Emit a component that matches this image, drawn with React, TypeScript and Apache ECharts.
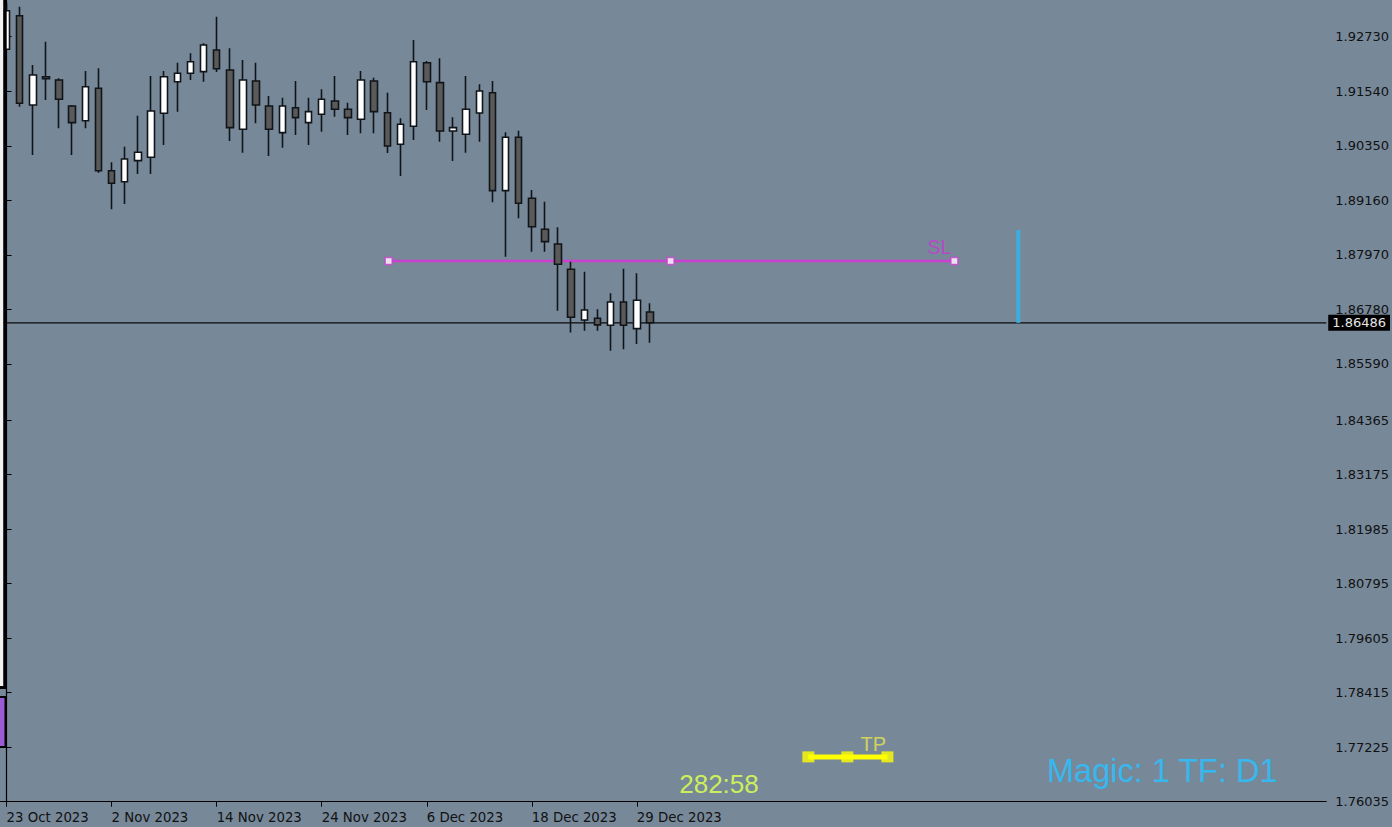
import React, { useEffect, useRef } from "react";
import * as echarts from "echarts";

const dates = [
  "23 Oct 2023", "24 Oct 2023", "25 Oct 2023", "26 Oct 2023", "27 Oct 2023", "30 Oct 2023", "31 Oct 2023",
  "1 Nov 2023", "2 Nov 2023", "3 Nov 2023", "6 Nov 2023", "7 Nov 2023", "8 Nov 2023", "9 Nov 2023", "10 Nov 2023",
  "13 Nov 2023", "14 Nov 2023", "15 Nov 2023", "16 Nov 2023", "17 Nov 2023", "20 Nov 2023", "21 Nov 2023",
  "22 Nov 2023", "23 Nov 2023", "24 Nov 2023", "27 Nov 2023", "28 Nov 2023", "29 Nov 2023", "30 Nov 2023",
  "1 Dec 2023", "4 Dec 2023", "5 Dec 2023", "6 Dec 2023", "7 Dec 2023", "8 Dec 2023", "11 Dec 2023",
  "12 Dec 2023", "13 Dec 2023", "14 Dec 2023", "15 Dec 2023", "18 Dec 2023", "19 Dec 2023", "20 Dec 2023",
  "21 Dec 2023", "22 Dec 2023", "26 Dec 2023", "27 Dec 2023", "28 Dec 2023", "29 Dec 2023", "2 Jan 2024",
];

const opens = [
  1.92455, 1.93188, 1.9124, 1.91857, 1.91785, 1.91218, 1.90897, 1.91604, 1.89806, 1.89566,
  1.90025, 1.90099, 1.91059, 1.91748, 1.91932, 1.91967, 1.9244, 1.92004, 1.9071, 1.91764,
  1.91218, 1.90636, 1.91181, 1.90854, 1.91037, 1.91327, 1.91146, 1.90928, 1.91764, 1.91072,
  1.90382, 1.90775, 1.92163, 1.91727, 1.90673, 1.90601, 1.91065, 1.91508, 1.8937, 1.90535,
  1.89204, 1.88528, 1.88207, 1.87655, 1.86549, 1.86586, 1.86433, 1.86941, 1.86359, 1.86723,
];
const highs = [
  1.93466, 1.93385, 1.92113, 1.92621, 1.91823, 1.9124, 1.91982, 1.92041, 1.8999, 1.9033,
  1.91006, 1.91873, 1.91982, 1.92163, 1.92368, 1.92586, 1.93167, 1.92477, 1.92222, 1.92163,
  1.91436, 1.91399, 1.91764, 1.91399, 1.91583, 1.91873, 1.9129, 1.91982, 1.91836, 1.91508,
  1.9095, 1.92658, 1.922, 1.92259, 1.90972, 1.91873, 1.91692, 1.91764, 1.90644, 1.90679,
  1.89385, 1.8913, 1.88571, 1.87821, 1.87603, 1.86782, 1.87131, 1.87668, 1.87568, 1.86913,
];
const lows = [
  1.9244, 1.91203, 1.90149, 1.91349, 1.90732, 1.90149, 1.90732, 1.89763, 1.88964, 1.8908,
  1.89734, 1.89734, 1.90367, 1.91094, 1.91785, 1.91748, 1.9196, 1.90454, 1.90199, 1.90841,
  1.90127, 1.90308, 1.90585, 1.90367, 1.90657, 1.90985, 1.90585, 1.90622, 1.90622, 1.90193,
  1.89691, 1.90476, 1.91131, 1.90439, 1.90018, 1.90199, 1.90439, 1.89117, 1.8793, 1.88768,
  1.88039, 1.88039, 1.86752, 1.86272, 1.86315, 1.86315, 1.85879, 1.85909, 1.86025, 1.86053,
];
const closes = [
  1.93298, 1.91277, 1.91895, 1.91814, 1.91364, 1.90854, 1.91639, 1.89806, 1.89531, 1.90062,
  1.90208, 1.91109, 1.91857, 1.91932, 1.92185, 1.92549, 1.92032, 1.90745, 1.91785, 1.9124,
  1.9071, 1.91218, 1.90963, 1.91094, 1.91364, 1.91146, 1.90963, 1.91785, 1.91094, 1.90345,
  1.90819, 1.92185, 1.91748, 1.90673, 1.90745, 1.91146, 1.91545, 1.8937, 1.90535, 1.89095,
  1.88584, 1.88257, 1.87764, 1.86608, 1.86767, 1.8644, 1.86941, 1.86433, 1.86979, 1.86486,
];

const futureSlots = 51;
const yTicks = [
  1.9273, 1.9154, 1.9035, 1.8916, 1.8797, 1.8678, 1.8559, 1.84365,
  1.83175, 1.81985, 1.80795, 1.79605, 1.78415, 1.77225, 1.76035,
];
const yMin = 1.76035;
const yMax = 1.93531;
const dateLabelStep = 8;

const currentPrice = 1.86486;
const slPrice = 1.87836;
const slSlots = [29.1, 50.57, 72.18];
const tpPrice = 1.77013;
const tpSlots = [61.06, 64.03, 67.08];
const vLineSlot = 77.05;
const vLineRange = [1.86486, 1.88512];

const timerText = "282:58";
const infoText = "Magic: 1 TF: D1";

export default function App() {
  const ref = useRef<HTMLDivElement>(null);

  useEffect(() => {
    if (!ref.current) return;
    const chart = echarts.init(ref.current, undefined, { renderer: "svg" });
    const futureNames = Array.from({ length: futureSlots }, (_, i) => "_f" + i);
    const categories = [...dates, ...futureNames];
    const totalSlots = categories.length;
    const candleData = dates.map((_, i) => [opens[i], closes[i], lows[i], highs[i]]);
    const showIdx = (index: number) => index % dateLabelStep === 0 && index < dates.length;

    const option: any = {
      animation: false,
      backgroundColor: "#778899",
      grid: { left: 0, right: 64.7, top: 0, bottom: 25.3, containLabel: false },
      xAxis: [
        {
          type: "category",
          data: categories,
          boundaryGap: true,
          axisLine: { show: true, lineStyle: { color: "#000", width: 1.2 } },
          axisTick: { show: true, interval: (i: number) => showIdx(i), alignWithLabel: true, length: 5, lineStyle: { color: "#000" } },
          axisLabel: {
            interval: (i: number) => showIdx(i),
            formatter: (v: string) => (v.startsWith("_f") ? "" : v),
            align: "left",
            padding: [0, 0, 0, 0],
            margin: 9,
            color: "#111",
            fontFamily: "DejaVu Sans",
            fontSize: 13.3,
          },
          splitLine: { show: false },
        },
        {
          type: "value",
          min: -0.5,
          max: totalSlots - 0.5,
          show: false,
        },
      ],
      yAxis: {
        type: "value",
        position: "right",
        min: yMin,
        max: yMax,
        scale: true,
        axisLine: { show: true, lineStyle: { color: "#000", width: 1.2 } },
        axisTick: { show: true, customValues: yTicks, length: 5, lineStyle: { color: "#000" } },
        axisLabel: {
          customValues: yTicks,
          formatter: (v: number) => v.toFixed(5),
          margin: 9,
          color: "#111",
          fontFamily: "DejaVu Sans",
          fontSize: 13,
        },
        splitLine: { show: false },
      },
      series: [
        {
          type: "line",
          xAxisIndex: 1,
          data: [[-0.5, currentPrice], [totalSlots - 0.5, currentPrice]],
          symbol: "none",
          lineStyle: { color: "#0a0a0a", width: 1.2 },
          silent: true,
          z: 2,
          endLabel: {
            show: true,
            distance: 2,
            formatter: currentPrice.toFixed(5),
            backgroundColor: "#000",
            color: "#e6e6e6",
            padding: [2, 4, 1, 4],
            fontFamily: "DejaVu Sans",
            fontSize: 13,
          },
        },
        {
          type: "line",
          xAxisIndex: 1,
          data: [[slSlots[0], slPrice], [slSlots[2], slPrice]],
          symbol: "none",
          lineStyle: { color: "#cc3fd0", width: 2.5 },
          silent: true,
          z: 3,
        },
        {
          type: "scatter",
          xAxisIndex: 1,
          symbol: "rect",
          symbolSize: 7,
          itemStyle: { color: "#ffffff", borderColor: "#cc3fd0", borderWidth: 1.5 },
          data: slSlots.map((s, i) => ({
            value: [s, slPrice],
            label: i === slSlots.length - 1
              ? { show: true, formatter: "SL", position: "inside", offset: [-15, -14], color: "#c63ad0", fontFamily: "Liberation Sans", fontSize: 20 }
              : { show: false },
          })),
          silent: true,
          z: 4,
        },
        {
          type: "candlestick",
          xAxisIndex: 0,
          data: candleData,
          barWidth: 7,
          itemStyle: {
            color: "#ffffff",
            color0: "#5a5a5a",
            borderColor: "#111418",
            borderColor0: "#111418",
            borderWidth: 1.6,
          },
          z: 5,
        },
        {
          type: "line",
          xAxisIndex: 1,
          data: [[tpSlots[0], tpPrice], [tpSlots[2], tpPrice]],
          symbol: "none",
          lineStyle: { color: "#ffff00", width: 5 },
          silent: true,
          z: 3,
        },
        {
          type: "scatter",
          xAxisIndex: 1,
          symbol: "rect",
          symbolSize: [12, 11],
          itemStyle: { color: "#ffff00" },
          data: tpSlots.map((s, i) => ({
            value: [s, tpPrice],
            label: i === tpSlots.length - 1
              ? { show: true, formatter: "TP", position: "inside", offset: [-14, -13], color: "#e8e84c", fontFamily: "Liberation Sans", fontSize: 20 }
              : { show: false },
          })),
          silent: true,
          z: 4,
        },
        {
          type: "line",
          xAxisIndex: 1,
          data: [[vLineSlot, vLineRange[0]], [vLineSlot, vLineRange[1]]],
          symbol: "none",
          lineStyle: { color: "#3aaee0", width: 4 },
          silent: true,
          z: 3,
        },
      ],
      graphic: [
        { type: "rect", z: 100, shape: { x: 0, y: 0, width: 3.5, height: 687 }, style: { fill: "#f2f2f2" } },
        { type: "rect", z: 100, shape: { x: 3.3, y: 0, width: 3.4, height: 689 }, style: { fill: "#000" } },
        { type: "rect", z: 100, shape: { x: 0, y: 686, width: 6.7, height: 3 }, style: { fill: "#000" } },
        { type: "rect", z: 100, shape: { x: -2, y: 697, width: 7.5, height: 50 }, style: { fill: "#9b5bd4", stroke: "#000", lineWidth: 2 } },
        {
          type: "text", z: 100, x: 719, y: 784,
          style: { text: timerText, fill: "#cdee5c", font: "26px 'Liberation Sans'", align: "center", verticalAlign: "middle" },
        },
        {
          type: "text", z: 100, x: 1047, y: 771,
          style: { text: infoText, fill: "#36b8ee", font: "32.5px 'Liberation Sans'", align: "left", verticalAlign: "middle" },
        },
      ],
    };

    chart.setOption(option);
    return () => chart.dispose();
  }, []);

  return (
    <div
      ref={ref}
      style={{ position: "fixed", left: 0, top: 0, width: 1392, height: 827 }}
    />
  );
}
